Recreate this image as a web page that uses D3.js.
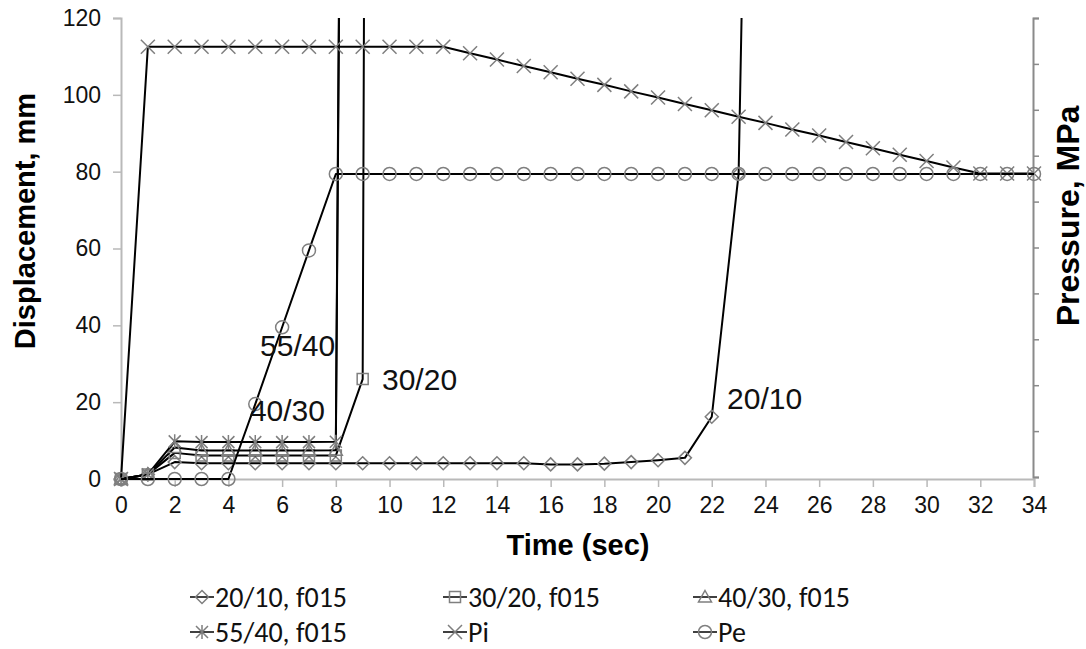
<!DOCTYPE html>
<html>
<head>
<meta charset="utf-8">
<script src="https://cdn.jsdelivr.net/npm/d3@7"></script>
<style>
  html, body { margin: 0; padding: 0; background: #fff; }
  svg { display: block; font-family: "Liberation Sans", Arial, sans-serif; }
</style>
</head>
<body>
<svg id="chart" width="1086" height="649"></svg>
<script>
// ---- data -------------------------------------------------------------
const timeSteps = [0, 1, 2, 3, 4, 5, 6, 7, 8, 9, 10, 11, 12, 13, 14, 15, 16, 17,
                   18, 19, 20, 21, 22, 23, 24, 25, 26, 27, 28, 29, 30, 31, 32, 33, 34];
const xTicks = [0, 2, 4, 6, 8, 10, 12, 14, 16, 18, 20, 22, 24, 26, 28, 30, 32, 34];
const yTicks = [0, 20, 40, 60, 80, 100, 120];
const yRightTicks = [0, 10, 20, 30, 40, 50, 60, 70, 80, 90, 100];

// displacement, mm (values beyond 120 run off the top of the plot)
const disp20_10 = [0, 1.2, 4.4, 4.1, 4.1, 4.1, 4.1, 4.1, 4.1, 4.1, 4.1, 4.1, 4.1, 4.1,
                   4.1, 4.1, 3.8, 3.8, 4.0, 4.4, 4.9, 5.5, 16.2, 79.4, 450];
const disp30_20 = [0, 1.2, 6.8, 6.1, 6.1, 6.1, 6.1, 6.1, 6.1, 26.0, 2000];
const disp40_30 = [0, 1.2, 8.2, 7.4, 7.4, 7.4, 7.4, 7.4, 7.5, 950];
const disp55_40 = [0, 1.2, 9.8, 9.6, 9.6, 9.6, 9.6, 9.6, 9.7, 1000];

// pressure, MPa
const pressPi = [0, 112.5, 112.5, 112.5, 112.5, 112.5, 112.5, 112.5, 112.5, 112.5, 112.5,
                 112.5, 112.5, 110.8, 109.2, 107.5, 105.9, 104.2, 102.6, 100.9, 99.3,
                 97.6, 96.0, 94.3, 92.7, 91.0, 89.4, 87.7, 86.1, 84.4, 82.8, 81.1,
                 79.5, 79.5, 79.5];
const pressPe = [0, 0, 0, 0, 0, 19.5, 39.5, 59.5, 79.4, 79.4, 79.4, 79.4, 79.4, 79.4,
                 79.4, 79.4, 79.4, 79.4, 79.4, 79.4, 79.4, 79.4, 79.4, 79.4, 79.4,
                 79.4, 79.4, 79.4, 79.4, 79.4, 79.4, 79.4, 79.4, 79.4, 79.4];

const seriesNames = ["20/10, f015", "30/20, f015", "40/30, f015", "55/40, f015", "Pi", "Pe"];
const seriesValues = [disp20_10, disp30_20, disp40_30, disp55_40, pressPi, pressPe];
const seriesMarkers = ["diamond", "square", "triangle", "star", "cross", "circle"];

// curve labels: text, time, displacement at the label baseline
const labelTexts = ["55/40", "40/30", "30/20", "20/10"];
const labelTimes = [5.18, 4.8, 9.72, 22.57];
const labelValues = [32.0, 15.1, 23.2, 18.2];

// ---- layout & style ----------------------------------------------------
const plot = { left: 121, right: 1034, top: 18, bottom: 479 };
const style = {
  line: "#000", lineWidth: 2,
  marker: "#7f7f7f", markerWidth: 1.5,
  axisLight: "#b9b9b9", axisDark: "#8a8a8a",
  tickFont: 23, labelFont: 30, titleFont: 29, rightTitleFont: 32, legendFont: 28
};

const svg = d3.select("#chart");
const x = d3.scaleLinear().domain([0, 34]).range([plot.left, plot.right]);
const y = d3.scaleLinear().domain([0, 120]).range([plot.bottom, plot.top]);
const yRight = d3.scaleLinear().domain([0, 100]).range([plot.bottom - 2, plot.top]);

// marker shapes centred on 0,0
function markerPath(kind) {
  switch (kind) {
    case "diamond": return "M0,-6.5L6.5,0L0,6.5L-6.5,0Z";
    case "square": return "M-5.5,-5.5H5.5V5.5H-5.5Z";
    case "triangle": return "M0,-6.5L6.5,5H-6.5Z";
    case "star": return "M-6,-6L6,6M-6,6L6,-6M0,-7V7";
    case "cross": return "M-7,-7L7,7M-7,7L7,-7";
    case "circle": return "M6.5,0A6.5,6.5 0 1 1 -6.5,0A6.5,6.5 0 1 1 6.5,0Z";
  }
}

// ---- axes --------------------------------------------------------------
const gx = svg.append("g")
  .attr("transform", `translate(0,${plot.bottom})`)
  .call(d3.axisBottom(x).tickValues(xTicks).tickSize(8).tickPadding(10).tickFormat(d3.format("d")));
const gy = svg.append("g")
  .attr("transform", `translate(${plot.left},0)`)
  .call(d3.axisLeft(y).tickValues(yTicks).tickSize(8).tickPadding(12).tickFormat(d3.format("d")));
const gyr = svg.append("g")
  .attr("transform", `translate(${plot.right - 1},0)`)
  .call(d3.axisRight(yRight).tickValues(yRightTicks).tickSize(6).tickFormat(""));

[gx, gy].forEach(g => {
  g.select(".domain").attr("stroke", style.axisLight).attr("stroke-width", 2);
  g.selectAll(".tick line").attr("stroke", style.axisLight).attr("stroke-width", 1.5);
  g.selectAll(".tick text").attr("font-size", style.tickFont)
    .attr("font-family", "'Liberation Sans', Arial, sans-serif").attr("fill", "#111");
});
gyr.select(".domain").attr("stroke", style.axisDark).attr("stroke-width", 2);
gyr.selectAll(".tick line").attr("stroke", style.axisDark).attr("stroke-width", 1.5);

// ---- series ------------------------------------------------------------
svg.append("clipPath").attr("id", "plotClip")
  .append("rect").attr("x", 0).attr("y", plot.top).attr("width", 1086).attr("height", 600);

const line = d3.line()
  .x((d, i) => x(timeSteps[i]))
  .y(d => y(d));

const gSeries = svg.append("g");
seriesValues.forEach((vals, s) => {
  const g = gSeries.append("g");
  g.append("path")
    .attr("d", line(vals))
    .attr("fill", "none")
    .attr("stroke", style.line)
    .attr("stroke-width", style.lineWidth)
    .attr("stroke-linejoin", "round")
    .attr("clip-path", "url(#plotClip)");
  g.selectAll("path.m")
    .data(vals.map((v, i) => ({ t: timeSteps[i], v })).filter(d => d.v <= 120))
    .join("path")
    .attr("class", "m")
    .attr("transform", d => `translate(${x(d.t)},${y(d.v)})`)
    .attr("d", markerPath(seriesMarkers[s]))
    .attr("fill", "none")
    .attr("stroke", style.marker)
    .attr("stroke-width", style.markerWidth);
});

// ---- curve labels -------------------------------------------------------
svg.append("g").selectAll("text")
  .data(labelTexts)
  .join("text")
  .attr("x", (d, i) => x(labelTimes[i]))
  .attr("y", (d, i) => y(labelValues[i]))
  .attr("font-size", style.labelFont)
  .attr("fill", "#111")
  .text(d => d);

// ---- axis titles -------------------------------------------------------
svg.append("text")
  .attr("x", (plot.left + plot.right) / 2 + 0.5)
  .attr("y", 555)
  .attr("text-anchor", "middle")
  .attr("font-weight", "bold")
  .attr("font-size", style.titleFont)
  .text("Time (sec)");
svg.append("text")
  .attr("transform", "translate(35,221) rotate(-90)")
  .attr("text-anchor", "middle")
  .attr("font-weight", "bold")
  .attr("font-size", style.titleFont)
  .text("Displacement, mm");
svg.append("text")
  .attr("transform", "translate(1079,216) rotate(-90)")
  .attr("text-anchor", "middle")
  .attr("font-weight", "bold")
  .attr("font-size", style.rightTitleFont)
  .text("Pressure, MPa");

// ---- legend ------------------------------------------------------------
const legendCols = [190, 443, 693];
const legendRows = [597, 632];
const legend = svg.append("g");
seriesNames.forEach((name, s) => {
  const lx = legendCols[s % 3], ly = legendRows[Math.floor(s / 3)];
  const g = legend.append("g").attr("transform", `translate(${lx},${ly})`);
  g.append("line").attr("x1", 0).attr("x2", 24).attr("y1", 0).attr("y2", 0)
    .attr("stroke", style.line).attr("stroke-width", 1.5);
  g.append("path").attr("transform", "translate(12,0)")
    .attr("d", markerPath(seriesMarkers[s]))
    .attr("fill", "none").attr("stroke", style.marker).attr("stroke-width", style.markerWidth);
  g.append("text").attr("x", 25).attr("y", 0).attr("dy", "0.36em")
    .attr("font-family", "Carlito, Lato, sans-serif").attr("font-size", style.legendFont)
    .attr("fill", "#111")
    .text(name);
});
</script>
</body>
</html>
